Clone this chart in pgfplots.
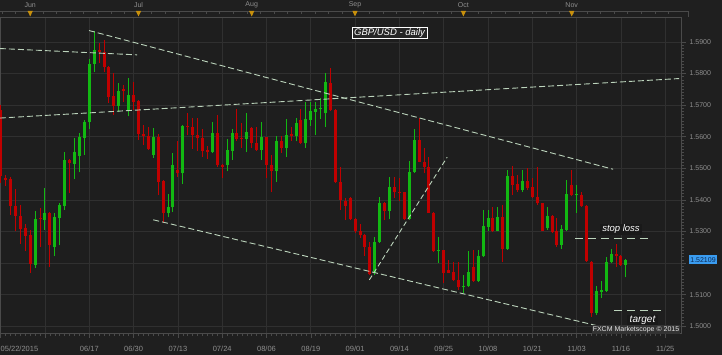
\documentclass[border=0pt]{standalone}
\usepackage{pgfplots}
\usepackage{pgfplotstable}
\pgfplotsset{compat=1.18}
\usepackage{fontspec}
\setmainfont{Liberation Sans}
\definecolor{bg}{HTML}{1F1F1F}
\definecolor{plotbg}{HTML}{1E1E1E}
\definecolor{gridc}{HTML}{303030}
\definecolor{axisc}{HTML}{4A4A4A}
\definecolor{labc}{HTML}{8E8E8E}
\definecolor{cgreen}{HTML}{12B812}
\definecolor{cred}{HTML}{C00000}
\definecolor{trend}{HTML}{BCD4BC}
\definecolor{tri}{HTML}{C8900C}
\definecolor{pricebox}{HTML}{3A9CF0}
\definecolor{pricetxt}{HTML}{0C2850}

\pgfplotstableread{
i o h l c
0 1.5685 1.5700 1.5455 1.5477
1 1.5470 1.5480 1.5445 1.5462
2 1.5466 1.5474 1.5352 1.5382
3 1.5382 1.5434 1.5300 1.5349
4 1.5349 1.5384 1.5260 1.5308
5 1.5310 1.5323 1.5237 1.5287
6 1.5289 1.5305 1.5170 1.5196
7 1.5194 1.5365 1.5184 1.5340
8 1.5342 1.5374 1.5250 1.5338
9 1.5337 1.5439 1.5305 1.5358
10 1.5357 1.5363 1.5189 1.5258
11 1.5252 1.5360 1.5221 1.5346
12 1.5344 1.5389 1.5256 1.5384
13 1.5382 1.5553 1.5368 1.5527
14 1.5527 1.5530 1.5421 1.5516
15 1.5514 1.5597 1.5466 1.5552
16 1.5539 1.5611 1.5487 1.5598
17 1.5597 1.5653 1.5542 1.5645
18 1.5645 1.5845 1.5625 1.5830
19 1.5830 1.5933 1.5806 1.5875
20 1.5875 1.5896 1.5833 1.5868
21 1.5867 1.5906 1.5806 1.5822
22 1.5822 1.5825 1.5708 1.5727
23 1.5729 1.5801 1.5669 1.5697
24 1.5697 1.5769 1.5677 1.5746
25 1.5750 1.5764 1.5711 1.5746
26 1.5685 1.5785 1.5664 1.5732
27 1.5732 1.5774 1.5685 1.5711
28 1.5713 1.5716 1.5590 1.5608
29 1.5608 1.5637 1.5574 1.5603
30 1.5603 1.5632 1.5559 1.5561
31 1.5542 1.5627 1.5532 1.5598
32 1.5598 1.5609 1.5414 1.5458
33 1.5460 1.5462 1.5326 1.5358
34 1.5358 1.5418 1.5345 1.5377
35 1.5376 1.5548 1.5363 1.5511
36 1.5495 1.5587 1.5474 1.5484
37 1.5484 1.5636 1.5451 1.5634
38 1.5634 1.5674 1.5604 1.5630
39 1.5632 1.5658 1.5561 1.5604
40 1.5604 1.5660 1.5556 1.5595
41 1.5595 1.5624 1.5537 1.5556
42 1.5558 1.5571 1.5530 1.5550
43 1.5550 1.5645 1.5548 1.5611
44 1.5611 1.5669 1.5505 1.5509
45 1.5511 1.5513 1.5469 1.5504
46 1.5511 1.5593 1.5490 1.5558
47 1.5556 1.5624 1.5527 1.5611
48 1.5611 1.5687 1.5585 1.5594
49 1.5597 1.5643 1.5564 1.5593
50 1.5593 1.5674 1.5550 1.5615
51 1.5628 1.5632 1.5564 1.5581
52 1.5581 1.5630 1.5555 1.5558
53 1.5558 1.5648 1.5527 1.5598
54 1.5598 1.5600 1.5469 1.5511
55 1.5511 1.5542 1.5424 1.5492
56 1.5490 1.5603 1.5458 1.5585
57 1.5585 1.5603 1.5548 1.5564
58 1.5564 1.5656 1.5535 1.5606
59 1.5608 1.5632 1.5587 1.5603
60 1.5603 1.5658 1.5585 1.5643
61 1.5653 1.5687 1.5577 1.5579
62 1.5579 1.5711 1.5564 1.5655
63 1.5653 1.5711 1.5634 1.5680
64 1.5679 1.5709 1.5606 1.5688
65 1.5687 1.5722 1.5656 1.5690
66 1.5674 1.5801 1.5632 1.5772
67 1.5771 1.5817 1.5680 1.5683
68 1.5685 1.5688 1.5452 1.5456
69 1.5456 1.5505 1.5368 1.5400
70 1.5398 1.5405 1.5337 1.5382
71 1.5405 1.5408 1.5336 1.5340
72 1.5340 1.5343 1.5296 1.5300
73 1.5300 1.5323 1.5279 1.5289
74 1.5289 1.5291 1.5223 1.5252
75 1.5252 1.5268 1.5163 1.5165
76 1.5168 1.5284 1.5163 1.5268
77 1.5266 1.5410 1.5265 1.5389
78 1.5389 1.5392 1.5335 1.5366
79 1.5365 1.5474 1.5340 1.5442
80 1.5442 1.5472 1.5405 1.5426
81 1.5424 1.5468 1.5395 1.5421
82 1.5424 1.5426 1.5337 1.5340
83 1.5339 1.5524 1.5337 1.5488
84 1.5488 1.5625 1.5485 1.5588
85 1.5588 1.5658 1.5519 1.5521
86 1.5521 1.5563 1.5484 1.5505
87 1.5505 1.5537 1.5358 1.5360
88 1.5360 1.5362 1.5235 1.5237
89 1.5237 1.5284 1.5200 1.5242
90 1.5240 1.5242 1.5138 1.5170
91 1.5178 1.5210 1.5168 1.5170
92 1.5171 1.5205 1.5142 1.5147
93 1.5147 1.5205 1.5115 1.5123
94 1.5124 1.5163 1.5105 1.5128
95 1.5126 1.5237 1.5124 1.5171
96 1.5187 1.5240 1.5140 1.5142
97 1.5142 1.5242 1.5140 1.5223
98 1.5221 1.5368 1.5219 1.5316
99 1.5314 1.5368 1.5300 1.5342
100 1.5342 1.5379 1.5297 1.5302
101 1.5302 1.5379 1.5300 1.5347
102 1.5347 1.5384 1.5202 1.5245
103 1.5245 1.5495 1.5243 1.5476
104 1.5476 1.5508 1.5416 1.5447
105 1.5450 1.5479 1.5426 1.5432
106 1.5432 1.5495 1.5426 1.5460
107 1.5460 1.5500 1.5432 1.5439
108 1.5440 1.5469 1.5405 1.5408
109 1.5410 1.5505 1.5384 1.5389
110 1.5389 1.5391 1.5300 1.5303
111 1.5310 1.5379 1.5305 1.5350
112 1.5350 1.5352 1.5295 1.5297
113 1.5300 1.5342 1.5252 1.5258
114 1.5258 1.5321 1.5245 1.5308
115 1.5305 1.5463 1.5303 1.5419
116 1.5447 1.5495 1.5411 1.5414
117 1.5414 1.5447 1.5358 1.5418
118 1.5416 1.5426 1.5379 1.5381
119 1.5381 1.5383 1.5205 1.5208
120 1.5205 1.5208 1.5031 1.5041
121 1.5041 1.5126 1.5036 1.5112
122 1.5110 1.5142 1.5089 1.5115
123 1.5113 1.5219 1.5110 1.5205
124 1.5205 1.5244 1.5200 1.5229
125 1.5229 1.5260 1.5187 1.5223
126 1.5223 1.5226 1.5191 1.5194
127 1.5194 1.5214 1.5155 1.5211
}\ohlc

\pgfplotsset{candle/.style 2 args={draw=none, mark=none, forget plot,
  error bars/y dir=plus, error bars/y explicit, error bars/error mark=none,
  error bars/error bar style={line width=#1, draw=#2, solid}}}

\begin{document}
\begin{tikzpicture}[x=1pt,y=1pt]
\useasboundingbox (0,0) rectangle (722,355);
\fill[bg] (0,0) rectangle (722,355);
\begin{axis}[
  at={(0pt,22pt)}, anchor=south west,
  scale only axis, width=681pt, height=316pt,
  xmin=-0.14, xmax=138.2, ymin=1.4979, ymax=1.5979,
  axis background/.style={fill=plotbg},
  axis line style={draw=axisc, line width=0.8pt},
  xtick={0,9,...,135},
  xticklabels={\makebox[0pt][l]{05/22/2015},{},06/17,06/30,07/13,07/24,08/06,08/19,09/01,09/14,09/25,10/08,10/21,11/03,11/16,11/25},
  minor x tick num=8,
  ytick={1.50,1.51,1.52,1.53,1.54,1.55,1.56,1.57,1.58,1.59},
  yticklabels={1.5000,1.5100,{},1.5300,1.5400,1.5500,1.5600,1.5700,1.5800,1.5900},
  minor y tick num=9,
  xtick pos=bottom, ytick pos=right,
  yticklabel pos=right,
  tick align=outside,
  major tick length=5pt, minor tick length=3pt,
  every tick/.style={draw=axisc, line width=0.6pt},
  grid=major, major grid style={draw=gridc, line width=0.7pt},
  tick label style={text=labc, font=\fontsize{7}{8}\selectfont},
  xticklabel style={font=\fontsize{7.5}{8}\selectfont, yshift=-5pt},
]
% wicks
\addplot[candle={1pt}{cgreen}]
  table[x=i, y expr={\thisrow{c}>=\thisrow{o} ? \thisrow{l} : 0},
        y error plus expr={\thisrow{c}>=\thisrow{o} ? \thisrow{h}-\thisrow{l} : 0}] {\ohlc};
\addplot[candle={1pt}{cred}]
  table[x=i, y expr={\thisrow{c}<\thisrow{o} ? \thisrow{l} : 0},
        y error plus expr={\thisrow{c}<\thisrow{o} ? \thisrow{h}-\thisrow{l} : 0}] {\ohlc};
% bodies
\addplot[candle={3pt}{cgreen}]
  table[x=i, y expr={\thisrow{c}>=\thisrow{o} ? \thisrow{o} : 0},
        y error plus expr={\thisrow{c}>=\thisrow{o} ? max(\thisrow{c}-\thisrow{o},0.0003) : 0}] {\ohlc};
\addplot[candle={3pt}{cred}]
  table[x=i, y expr={\thisrow{c}<\thisrow{o} ? \thisrow{c} : 0},
        y error plus expr={\thisrow{c}<\thisrow{o} ? max(\thisrow{o}-\thisrow{c},0.0003) : 0}] {\ohlc};
% trend lines
\addplot[trend, line width=0.9pt, dash pattern=on 6pt off 3pt] coordinates {(17.94,1.5936) (124.4,1.5497)};
\addplot[trend, line width=0.9pt, dash pattern=on 6pt off 3pt] coordinates {(31.0,1.5337) (121.4,1.5001)};
\addplot[trend, line width=0.9pt, dash pattern=on 6pt off 3pt] coordinates {(-0.14,1.5879) (27.7,1.5859)};
\addplot[trend, line width=0.9pt, dash pattern=on 6pt off 3pt] coordinates {(-0.14,1.5659) (137.8,1.5784)};
\addplot[trend, line width=0.9pt, dash pattern=on 5pt off 3pt] coordinates {(74.9,1.5147) (90.7,1.5535)};
\addplot[trend, line width=0.9pt, dash pattern=on 8pt off 5pt] coordinates {(116.7,1.5279) (131.9,1.5279)};
\addplot[trend, line width=0.9pt, dash pattern=on 8pt off 5pt] coordinates {(124.6,1.5050) (134.8,1.5050)};
\end{axis}
% top band
\draw[axisc, line width=0.8pt] (0,344) -- (688,344) -- (688,338);
\foreach \x in {2,15.6,...,680} \draw[axisc, line width=0.6pt] (\x,344) -- (\x,341);
\foreach \x/\m in {30.2/Jun,138.5/Jul,251.7/Aug,355/Sep,463.4/Oct,571.7/Nov}{
  \fill[tri] (\x-2.6,344) -- (\x+2.6,344) -- (\x,338.5) -- cycle;
  \node[text=labc, font=\fontsize{7}{8}\selectfont, inner sep=0pt] at (\x,350) {\m};
}
% annotations
\node[draw=white, line width=0.7pt, fill=black!85, text=white, font=\fontsize{9.5}{10}\selectfont\itshape, inner xsep=2pt, inner ysep=1pt] at (389.5,322) {GBP/USD - daily};
\node[fill=black!90, text=white, font=\fontsize{9.5}{10}\selectfont\itshape, inner xsep=2pt, inner ysep=1pt] at (621,125.5) {stop loss};
\node[fill=black!90, text=white, font=\fontsize{10}{11}\selectfont\itshape, inner xsep=3pt, inner ysep=1pt] at (642.5,35) {target};
\node[fill=black!80, text=white!90!black, font=\fontsize{7}{8}\selectfont, inner sep=1pt] at (636,25.5) {FXCM Marketscope © 2015};
\node[fill=pricebox, text=pricetxt, font=\fontsize{7}{8}\selectfont, minimum width=28pt, minimum height=8.5pt, inner sep=0.5pt] at (703,95.3) {1.52109};
\end{tikzpicture}
\end{document}
